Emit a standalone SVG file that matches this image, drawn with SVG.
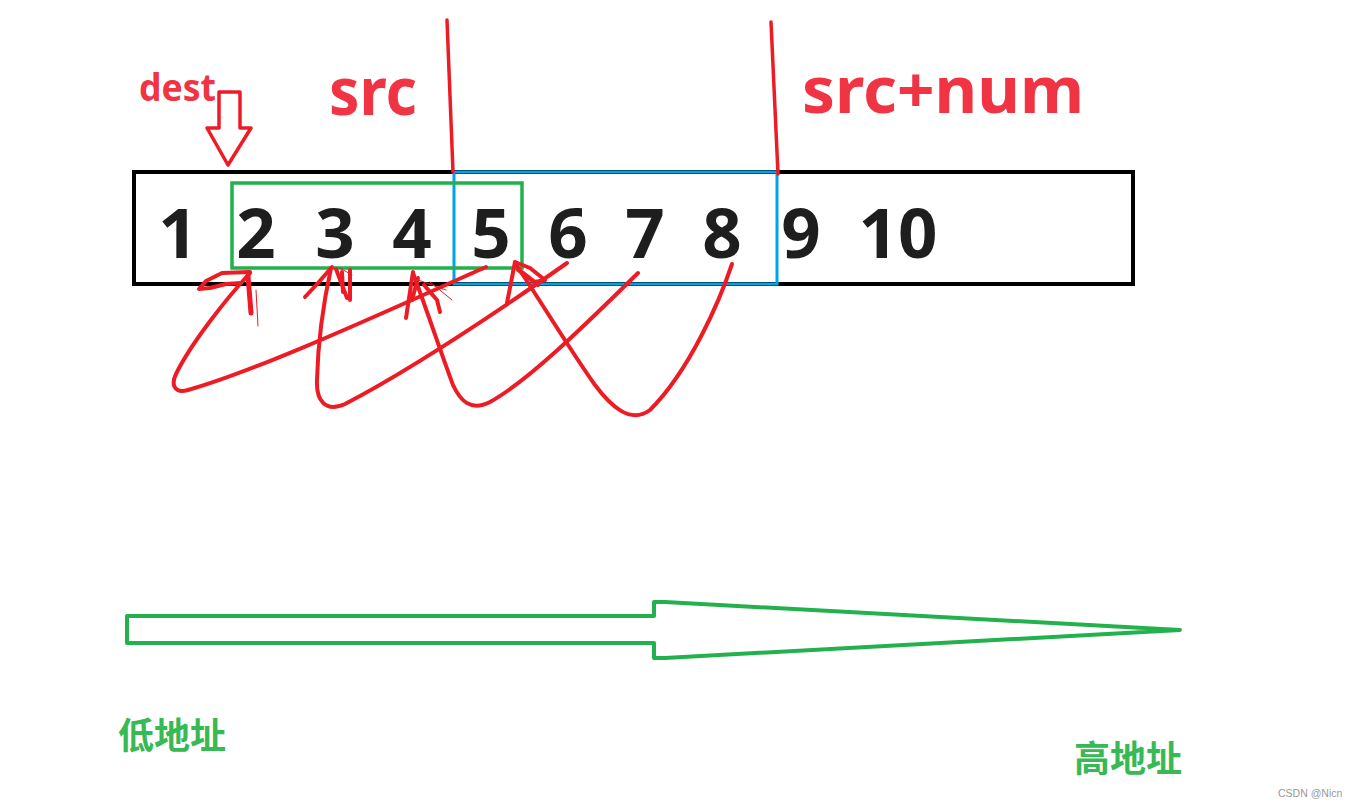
<svg xmlns="http://www.w3.org/2000/svg" width="1349" height="808" viewBox="0 0 1349 808">
<style>
.red{fill:none;stroke:#ed1c24;stroke-linecap:round;stroke-linejoin:round}
.lbl{font-family:"Noto Sans","Open Sans","Liberation Sans",sans-serif;font-weight:bold;fill:#f03443}
.num{font-family:"Noto Sans","Open Sans","Liberation Sans",sans-serif;font-weight:bold;font-size:69px;fill:#1e1e1e;text-anchor:middle}
.cn{font-family:"Noto Sans CJK SC","Noto Sans",sans-serif;font-weight:bold;font-size:36px;fill:#37b955}
</style>
<rect width="1349" height="808" fill="#ffffff"/>

<g id="array">
  <rect x="134" y="172" width="999" height="112" fill="none" stroke="#000" stroke-width="4"/>
  <rect x="454" y="172" width="323" height="112" fill="none" stroke="#00a2e8" stroke-width="3"/>
  <rect x="232" y="183" width="290" height="85" fill="none" stroke="#22b14c" stroke-width="3.5"/>
  <text class="num" x="178" y="258">1</text>
  <text class="num" x="256" y="258">2</text>
  <text class="num" x="335" y="258">3</text>
  <text class="num" x="412" y="258">4</text>
  <text class="num" x="491" y="258">5</text>
  <text class="num" x="568" y="258">6</text>
  <text class="num" x="645" y="258">7</text>
  <text class="num" x="722" y="258">8</text>
  <text class="num" x="801" y="258">9</text>
  <text class="num" x="898" y="258">10</text>
</g>

<g id="markers">
  <path class="red" d="M447,20 L453,172" stroke-width="3.5"/>
  <path class="red" d="M771,22 L778,174" stroke-width="3.5"/>
  <text class="lbl" x="329" y="115" font-size="66" textLength="88" lengthAdjust="spacingAndGlyphs">src</text>
  <text class="lbl" x="802" y="113" font-size="64" textLength="282" lengthAdjust="spacingAndGlyphs">src+num</text>
  <text class="lbl" x="139" y="101" font-size="37" textLength="77" lengthAdjust="spacingAndGlyphs">dest</text>
  <path class="red" d="M219,92 L240,92 L240,128 L251,128 L228,165 L207,128 L219,128 Z" stroke-width="3.5"/>
</g>

<g id="moves">
  <path class="red" stroke-width="4" d="M486,267 C400,305 260,370 188,390 C174,394 171,384 176,374 C190,345 225,300 250,273"/>
  <path class="red" stroke-width="4" d="M567,263 C500,310 410,370 345,404 C325,413 316,400 317,380 C318,340 324,300 331,268"/>
  <path class="red" stroke-width="4" d="M638,273 C590,320 530,380 490,402 C470,412 460,400 453,385 C440,350 425,305 413,273"/>
  <path class="red" stroke-width="4" d="M732,264 C720,300 690,370 650,410 C630,425 610,405 595,385 C570,350 540,300 515,263"/>
  <!-- scribbled arrowheads -->
  <path class="red" stroke-width="4" d="M250,272 L222,273 L206,281 L199,289 L210,288 L226,284 L241,283"/>
  <path class="red" stroke-width="5" d="M248,276 L251,313"/>
  <path class="red" stroke-width="1" d="M256,290 L258,326"/>
  <path class="red" stroke-width="4" d="M332,267 L318,283 L305,297 M336,269 L347,298 M350,270 L350,300 M342,272 L343,292"/>
  <path class="red" stroke-width="1" d="M326,275 L310,290 M340,268 L352,275"/>
  <path class="red" stroke-width="4" d="M413,272 L406,318 M418,278 L412,300 M424,285 L437,300 L440,312"/>
  <path class="red" stroke-width="1" d="M418,280 L446,290 M430,282 L452,300"/>
  <path class="red" stroke-width="4" d="M515,262 L507,303 M515,262 L530,268 L545,280 L535,282 L522,272 M518,270 L538,285"/>
</g>

<g id="direction">
  <path d="M127,616 L654,616 L654,602 L665,602 L1180,630 L665,658 L654,658 L654,643 L127,643 Z" fill="none" stroke="#22b14c" stroke-width="4" stroke-linejoin="round"/>
  <text class="cn" x="118" y="749">低地址</text>
  <text class="cn" x="1074" y="772">高地址</text>
</g>

<text x="1278" y="797" font-family="Liberation Sans, Arial, sans-serif" font-size="10.5" fill="#999999">CSDN @Nicn</text>
</svg>
